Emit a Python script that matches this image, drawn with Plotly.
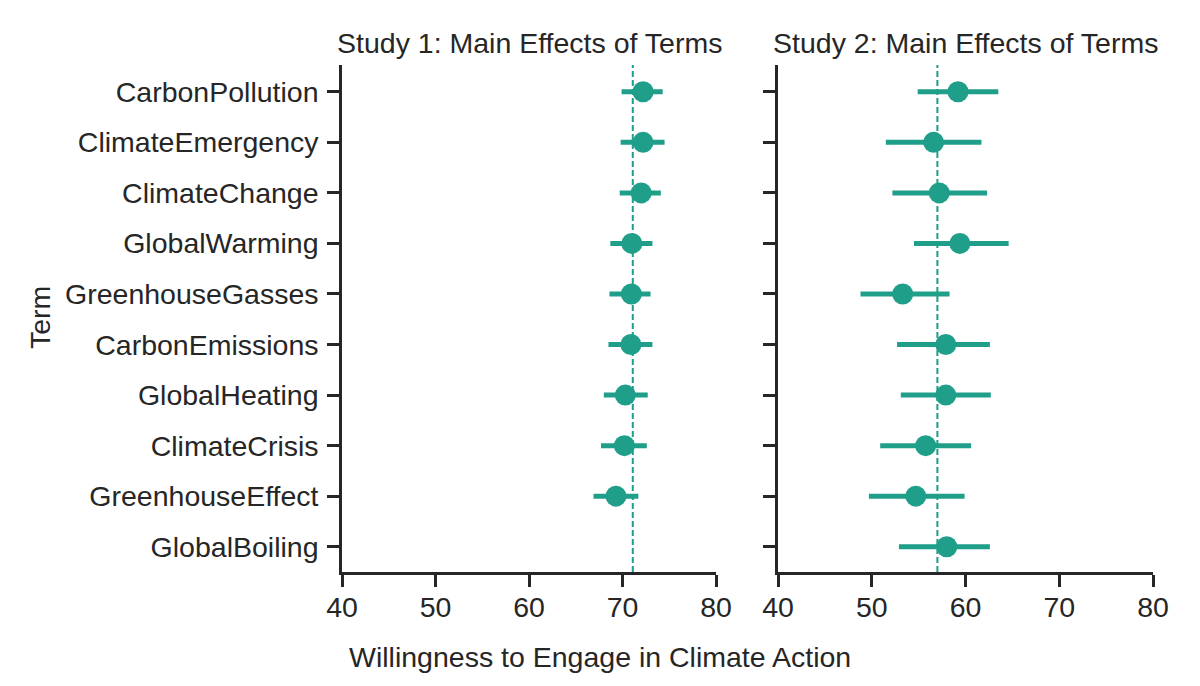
import plotly.graph_objects as go
from plotly.subplots import make_subplots

terms = ["CarbonPollution", "ClimateEmergency", "ClimateChange", "GlobalWarming",
         "GreenhouseGasses", "CarbonEmissions", "GlobalHeating", "ClimateCrisis",
         "GreenhouseEffect", "GlobalBoiling"]

study1_mean = [72.2, 72.2, 72.0, 71.0, 70.95, 70.9, 70.3, 70.2, 69.3, None]
study1_lo   = [69.9, 69.8, 69.7, 68.7, 68.6, 68.5, 68.0, 67.7, 66.9, None]
study1_hi   = [74.3, 74.5, 74.1, 73.2, 73.0, 73.2, 72.7, 72.6, 71.7, None]
study1_overall = 71.1

study2_mean = [59.2, 56.6, 57.2, 59.4, 53.3, 57.9, 57.9, 55.75, 54.7, 58.0]
study2_lo   = [54.9, 51.5, 52.2, 54.5, 48.8, 52.7, 53.1, 50.9, 49.7, 52.9]
study2_hi   = [63.5, 61.7, 62.3, 64.6, 58.3, 62.6, 62.7, 60.6, 59.9, 62.6]
study2_overall = 57.0

x_ticks = [40, 50, 60, 70, 80]
titles = ["Study 1: Main Effects of Terms", "Study 2: Main Effects of Terms"]
x_label = "Willingness to Engage in Climate Action"
y_label = "Term"

TEAL = "#1f9e89"
INK = "#262626"
FONT = "Liberation Sans, Arial, Helvetica, sans-serif"
FS = 28.5


def err(mean, lo, hi):
    plus = [None if m is None else h - m for m, h in zip(mean, hi)]
    minus = [None if m is None else m - l for m, l in zip(mean, lo)]
    return plus, minus


fig = make_subplots(rows=1, cols=2, shared_yaxes=False)

for col, (mean, lo, hi) in enumerate([(study1_mean, study1_lo, study1_hi),
                                      (study2_mean, study2_lo, study2_hi)], start=1):
    plus, minus = err(mean, lo, hi)
    fig.add_trace(go.Scatter(
        x=mean, y=terms, mode="markers",
        marker=dict(size=21, color=TEAL, line=dict(width=0)),
        error_x=dict(type="data", symmetric=False, array=plus, arrayminus=minus,
                     color=TEAL, thickness=5, width=0),
        showlegend=False, hoverinfo="x+y",
    ), row=1, col=col)

for col, val in [(1, study1_overall), (2, study2_overall)]:
    xref = "x" if col == 1 else "x2"
    fig.add_shape(type="line", xref=xref, yref="paper", x0=val, x1=val, y0=0, y1=1,
                  line=dict(color=TEAL, width=2, dash="6px,3px"), layer="below")

axis_common = dict(showline=True, linewidth=2.5, linecolor=INK, ticks="outside",
                   ticklen=12, tickwidth=2.5, tickcolor=INK, showgrid=False,
                   zeroline=False, tickfont=dict(family=FONT, size=FS, color=INK))

fig.update_xaxes(range=[40, 80], tickvals=x_ticks, ticklabelstandoff=-4, **axis_common)
fig.update_xaxes(domain=[0, 374 / 811], row=1, col=1)
fig.update_xaxes(domain=[436 / 811, 1], row=1, col=2)

fig.update_yaxes(type="category", categoryorder="array", categoryarray=terms,
                 range=[9.5, -0.53], ticklabelstandoff=3, **axis_common)
fig.update_yaxes(showticklabels=False, row=1, col=2)

anns = [
    dict(text=titles[0], x=187 / 811, y=(572 - 43) / 507),
    dict(text=titles[1], x=(436 + 187) / 811, y=(572 - 43) / 507),
    dict(text=x_label, x=(600 - 342) / 811, y=(572 - 657) / 507),
    dict(text=y_label, x=(40 - 342) / 811, y=(572 - 318) / 507, textangle=-90),
]
for a in anns:
    fig.add_annotation(xref="paper", yref="paper", showarrow=False,
                       xanchor="center", yanchor="middle",
                       font=dict(family=FONT, size=FS, color=INK), **a)

fig.update_layout(width=1192, height=678,
                  margin=dict(l=334, r=47, t=57, b=114, pad=0),
                  plot_bgcolor="white", paper_bgcolor="white",
                  font=dict(family=FONT, size=FS, color=INK))

fig.write_html("out.html")
